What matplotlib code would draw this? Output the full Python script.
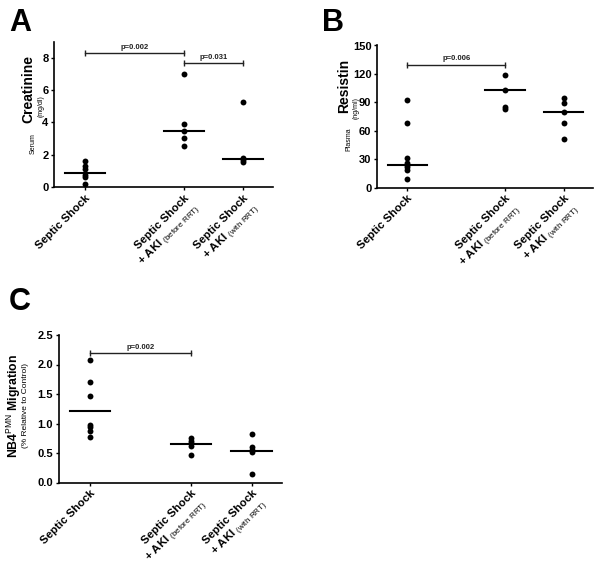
import numpy as np
import matplotlib
matplotlib.use("Agg")
import matplotlib.pyplot as plt

plt.rcParams['font.family'] = ['Liberation Sans', 'DejaVu Sans']
plt.rcParams['mathtext.fontset'] = 'custom'
plt.rcParams['mathtext.rm'] = 'Liberation Sans'
plt.rcParams['mathtext.bf'] = 'Liberation Sans:bold'

# group labels
groups = ["Septic Shock",
          "Septic Shock\n+ AKI $_{\\mathrm{(before\\ RRT)}}$",
          "Septic Shock\n+ AKI $_{\\mathrm{(with\\ RRT)}}$"]

# A: serum creatinine (mg/dl)
creat_ss = [1.63, 1.32, 1.11, 0.74, 0.62, 0.19]
creat_aki = [7.02, 3.91, 3.44, 3.02, 2.51]
creat_rrt = [5.23, 1.77, 1.67, 1.54]
creat_med = [0.84, 3.44, 1.75]
creat_p = [("p=0.002", 0, 1, 8.31), ("p=0.031", 1, 2, 7.65)]

# B: plasma resistin (ng/ml)
resis_ss = [92.1, 68.5, 31.0, 25.8, 23.6, 21.5, 19.0, 9.2]
resis_aki = [119.0, 103.0, 85.4, 83.0]
resis_rrt = [95.0, 89.0, 79.8, 68.5, 50.8]
resis_med = [23.3, 103.0, 79.8]
resis_p = [("p=0.006", 0, 1, 129.9)]

# C: NB4 PMN migration (% relative to control)
migr_ss = [2.075, 1.70, 1.46, 0.976, 0.936, 0.87, 0.767]
migr_aki = [0.75, 0.71, 0.666, 0.62, 0.468]
migr_rrt = [0.83, 0.60, 0.55, 0.525, 0.152]
migr_med = [1.22, 0.65, 0.53]
migr_p = [("p=0.002", 0, 1, 2.2)]

xpos = [0, 1, 1.6]
W, H = 602, 569


def box(l, r, b, t):
    # pixel box -> figure fraction
    return [l / W, 1 - b / H, (r - l) / W, (b - t) / H]


def panel(ax, data, med, pvals, ylim, yticks, yfmt):
    for x, vals in zip(xpos, data):
        ax.scatter([x] * len(vals), vals, s=18, color='black', zorder=3, linewidths=0)
    for x, m in zip(xpos, med):
        ax.plot([x - 0.2, x + 0.2], [m, m], color='black', lw=1.5)
    for txt, i, j, y in pvals:
        ax.plot([xpos[i], xpos[j]], [y, y], color='#222222', lw=1.0,
                marker='|', markersize=4, markeredgewidth=1.0)
        ax.annotate(txt, ((xpos[i] + xpos[j]) / 2, y), xytext=(0, 1.5),
                    textcoords='offset points', ha='center', va='bottom',
                    fontsize=5.5, fontweight='bold', color='#222222')
    ax.set_xlim(-0.31, 1.9)
    ax.set_ylim(*ylim)
    ax.set_yticks(yticks)
    ax.set_yticklabels([yfmt % v for v in yticks], fontsize=8, fontweight='bold')
    ax.set_xticks(xpos)
    ax.set_xticklabels(groups, rotation=45, ha='right', rotation_mode='anchor',
                       fontsize=8.2, fontweight='bold', multialignment='right')
    for s in ['top', 'right']:
        ax.spines[s].set_visible(False)
    for s in ['left', 'bottom']:
        ax.spines[s].set_linewidth(1.2)
    ax.tick_params(axis='both', width=1.0, length=2.5, pad=1.5)


fig = plt.figure(figsize=(W / 100, H / 100), dpi=100)

axA = fig.add_axes(box(54, 273, 187, 41.5))
panel(axA, [creat_ss, creat_aki, creat_rrt], creat_med, creat_p, (0, 9), [0, 2, 4, 6, 8], '%d')

axB = fig.add_axes(box(377, 593, 187.5, 45.5))
panel(axB, [resis_ss, resis_aki, resis_rrt], resis_med, resis_p, (0, 150), [0, 30, 60, 90, 120, 150], '%d')

axC = fig.add_axes(box(58.5, 282, 482.5, 335))
panel(axC, [migr_ss, migr_aki, migr_rrt], migr_med, migr_p, (0, 2.5), [0, 0.5, 1.0, 1.5, 2.0, 2.5], '%.1f')


def ftext(x, y, s, **kw):
    fig.text(x / W, 1 - y / H, s, **kw)


# panel letters
for lab, x, y in [("A", 9, 8), ("B", 322, 8), ("C", 9, 287)]:
    ftext(x, y, lab, fontsize=22, fontweight='bold', ha='left', va='top')

# y labels
ftext(28.5, 89, "Creatinine", fontsize=10, fontweight='bold', rotation=90, ha='center', va='center')
ftext(33, 144, "Serum", fontsize=5, rotation=90, ha='center', va='center')
ftext(41.5, 106, "(mg/dl)", fontsize=5, rotation=90, ha='center', va='center')

ftext(344, 86, "Resistin", fontsize=10, fontweight='bold', rotation=90, ha='center', va='center')
ftext(348.5, 139, "Plasma", fontsize=5, rotation=90, ha='center', va='center')
ftext(356, 108, "(ng/ml)", fontsize=5, rotation=90, ha='center', va='center')

ftext(13.5, 406, "NB4$^{\\mathrm{PMN}}$ Migration", fontsize=8.8, fontweight='bold', rotation=90,
      ha='center', va='center')
ftext(26, 406, "(% Relative to Control)", fontsize=6, rotation=90, ha='center', va='center')

fig.savefig("out.png", dpi=100)
